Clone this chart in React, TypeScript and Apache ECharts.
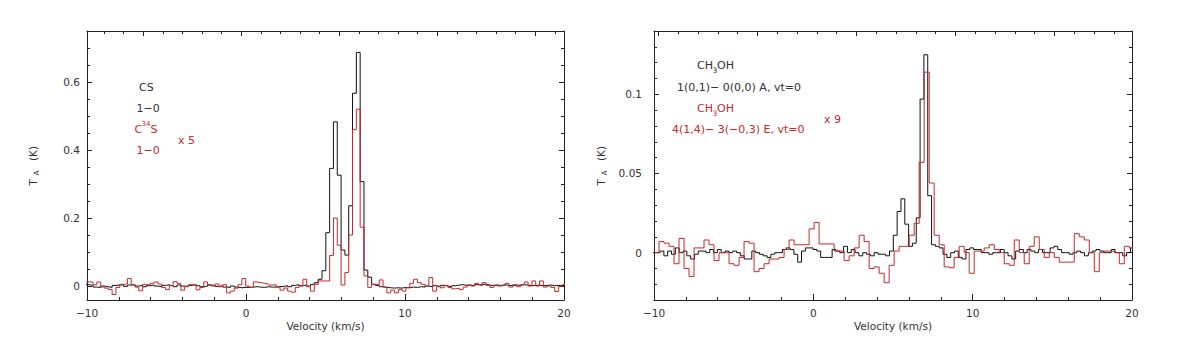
import React, { useEffect, useRef } from "react";
import * as echarts from "echarts";

// ---- channel grids (km/s) ----
const FINE_V0 = -10.1; // left edge of first channel
const FINE_DV = 0.24;
const COARSE_V0 = -10.0;
const COARSE_DV = 0.314;

// ---- left panel: CS 1-0 (black) ----
const csBlack = [
  0.004, 0.002, -0.003, -0.004, 0.0, -0.002, -0.004, 0.002, 0.003, 0.004,
  -0.001, 0.003, 0.004, 0.0, 0.002, -0.002, 0.001, 0.003, 0.0, -0.002,
  0.002, 0.004, 0.001, -0.002, 0.003, 0.0, -0.001, 0.002, 0.004, 0.001,
  -0.002, 0.0, 0.003, 0.002, -0.001, 0.001, -0.003, -0.004, 0.0, -0.003,
  -0.005, -0.004, -0.004, -0.003, -0.002, -0.003, -0.004, -0.002, -0.003, -0.003,
  -0.002, -0.001, 0.001, -0.002, 0.002, 0.004, 0.001, 0.003, 0.0, 0.005,
  0.01, 0.02, 0.045, 0.157, 0.346, 0.483, 0.326, 0.106, 0.091, 0.236,
  0.567, 0.687, 0.307, 0.047, 0.026, 0.005,
  0.002, -0.002, -0.004, -0.005, -0.006, -0.005, -0.006, -0.004, -0.005, -0.003,
  -0.004, -0.002, -0.003, 0.0, -0.002, 0.001, -0.001, 0.002, 0.0, -0.002,
  0.001, 0.003, 0.004, 0.002, 0.003, 0.001, 0.004, 0.002, 0.005, 0.003,
  0.001, 0.003, 0.002, 0.004, 0.002, 0.001, 0.003, 0.002, 0.004, 0.003,
  0.001, 0.002, 0.003, 0.001, 0.002, 0.003, 0.001, 0.002, 0.002, 0.001,
];

// ---- left panel: C34S 1-0 x5 (red) ----
const c34sRed = [
  0.012, 0.012, 0.004, 0.012, -0.003, -0.006, -0.01, -0.025, -0.004, 0.005,
  0.006, 0.022, 0.004, -0.003, -0.014, 0.005, 0.003, 0.008, 0.012, 0.006,
  -0.004, -0.01, 0.002, 0.013, 0.008, -0.012, -0.002, 0.004, 0.005, -0.011,
  -0.004, 0.012, 0.004, 0.0, 0.006, -0.002, 0.004, -0.02, -0.015, -0.006,
  0.004, 0.022, 0.0, -0.004, 0.012, 0.01, 0.008, 0.006, 0.003, 0.004,
  -0.003, -0.012, -0.006, -0.015, -0.018, -0.004, 0.0, 0.02, -0.002, -0.015,
  0.005, 0.015, 0.015, 0.015, 0.09, 0.2, 0.12, 0.003, 0.04, 0.15,
  0.46, 0.52, 0.173, 0.03, -0.004, 0.005, 0.005, 0.018, -0.003, -0.02,
  -0.012, -0.02, -0.01, -0.015, -0.005, 0.008, 0.02, 0.01, 0.005, 0.0,
  0.025, -0.015, -0.002, -0.005, 0.002, -0.004, -0.008, -0.006, -0.01, -0.003,
  0.003, 0.0, 0.008, 0.004, 0.01, 0.002, -0.004, 0.003, 0.0, 0.002,
  0.008, -0.003, 0.004, -0.002, 0.004, 0.012, 0.0, 0.015, 0.0, 0.015,
  -0.003, 0.0, -0.004, -0.016, 0.0, 0.004,
];

// ---- right panel: CH3OH 1(0,1)-0(0,0) A (black) ----
const ch3ohA = [
  0.0, 0.0, 0.001, -0.002, 0.001, -0.001, 0.003, 0.0, 0.001, -0.002,
  -0.004, -0.001, 0.001, 0.001, 0.0, 0.002, 0.0, 0.002, 0.0, 0.001,
  0.0, 0.001, 0.0, -0.002, -0.004, -0.004, 0.001, 0.0, -0.001, -0.002,
  -0.003, -0.001, 0.0, 0.0, 0.002, 0.003, 0.002, -0.001, -0.006, 0.001,
  0.003, 0.003, 0.002, 0.001, -0.003, -0.003, -0.003, 0.002, 0.001, 0.0,
  0.004, 0.0, 0.002, 0.0, -0.002, 0.0, -0.001, -0.002, 0.0, -0.001,
  -0.001, -0.002, 0.001, 0.011, 0.026, 0.034, 0.018, 0.004, 0.006, 0.022,
  0.097, 0.125, 0.036, 0.005, 0.004, 0.003, -0.001, -0.003, 0.0, 0.001,
  -0.003, -0.004, 0.002, 0.003, 0.002, 0.002, 0.0, 0.0, -0.001, 0.0,
  0.0, 0.002, 0.0, -0.002, -0.004, 0.001, 0.002, 0.0, 0.002, 0.001,
  0.0, 0.002, 0.0, 0.0, 0.003, 0.004, 0.002, 0.0, 0.0, -0.001,
  0.0, 0.001, 0.0, -0.002, 0.0, 0.001, 0.002, 0.001, 0.0, 0.0,
  0.002, 0.0, 0.0, -0.002, 0.0, 0.003,
];

// ---- right panel: CH3OH 4(1,4)-3(-0,3) E x9 (red) ----
const ch3ohE = [
  0.0, 0.007, 0.006, 0.004, -0.007, 0.009, -0.01, -0.015, 0.003, 0.003,
  0.008, 0.005, -0.005, 0.0, 0.0, -0.007, -0.008, -0.003, 0.007, 0.006,
  -0.012, -0.01, -0.007, -0.004, -0.004, -0.003, 0.002, 0.008, 0.005, 0.005,
  0.005, 0.015, 0.019, 0.0055, 0.0055, 0.0055, 0.001, 0.001, -0.005, -0.002,
  0.003, 0.011, 0.007, -0.01, -0.009, -0.013, -0.019, -0.008, 0.001, 0.004,
  0.004, 0.011, 0.0185, 0.057, 0.114, 0.044, 0.011, 0.005, -0.009, -0.0095,
  -0.003, 0.004, 0.0, -0.013, 0.001, 0.001, 0.003, 0.005, 0.002, 0.0,
  -0.007, -0.008, 0.008, 0.0, -0.007, 0.004, 0.01, 0.002, -0.003, 0.0,
  -0.003, -0.006, -0.006, -0.006, 0.012, 0.01, 0.008, 0.0, -0.012, 0.0,
  0.001, 0.001, 0.0, -0.007, 0.004, 0.003,
];

// ---- ticks ----
const velocityTicks = [-10, 0, 10, 20];
const velocityMinor = [-8, -6, -4, -2, 2, 4, 6, 8, 12, 14, 16, 18];
const leftYTicks = [0, 0.2, 0.4, 0.6];
const leftYMinor = [0.05, 0.1, 0.15, 0.25, 0.3, 0.35, 0.45, 0.5, 0.55, 0.65, 0.7];
const rightYTicks = [0, 0.05, 0.1];
const rightYMinor = [-0.02, -0.01, 0.01, 0.02, 0.03, 0.04, 0.06, 0.07, 0.08, 0.09, 0.11, 0.12, 0.13];
const topMajor = [0, 5, 10, 15, 20];
const topMinorLeft = [-2, -1, 1, 2, 3, 4, 6, 7, 8, 9, 11, 12, 13, 14, 16, 17, 18, 19, 21];
const topMinorRight = [1, 2, 3, 4, 6, 7, 8, 9, 11, 12, 13, 14, 16, 17, 18, 19, 21, 22, 23];

const FONT = "DejaVu Sans";
const AXIS = "#222";
const TXT = "#333";
const RED = "#c42a2a";
const BLACK = "#111";

const toSteps = (vals: number[], v0: number, dv: number) => {
  const pts = vals.map((t, i) => [v0 + i * dv, t]);
  pts.push([v0 + vals.length * dv, vals[vals.length - 1]]);
  return pts;
};

const fmtV = (v: number) => (v < 0 ? "\u2212" + Math.abs(v) : String(v));
const fmtY = (v: number) => (Math.abs(v) < 1e-9 ? "0" : String(+v.toFixed(2)));

function xAxesFor(gridIndex: number, topMin: number, topMax: number, topMinor: number[]) {
  const base: any = {
    type: "value",
    gridIndex,
    min: -10,
    max: 20,
    splitLine: { show: false },
    axisLine: { show: false, onZero: false },
    axisLabel: { show: false },
    axisTick: { show: false },
  };
  const line = { show: true, onZero: false, lineStyle: { color: AXIS, width: 1 } };
  return [
    {
      ...base,
      position: "bottom",
      axisLine: line,
      axisTick: { show: true, inside: true, length: 6, customValues: velocityTicks, lineStyle: { color: AXIS } },
      axisLabel: {
        show: true,
        customValues: velocityTicks,
        formatter: fmtV,
        margin: 7,
        color: TXT,
        fontFamily: FONT,
        fontSize: 10.5,
      },
    },
    {
      ...base,
      position: "bottom",
      axisTick: { show: true, inside: true, length: 3, customValues: velocityMinor, lineStyle: { color: AXIS } },
    },
    {
      ...base,
      position: "top",
      min: topMin,
      max: topMax,
      axisLine: line,
      axisTick: { show: true, inside: true, length: 5, customValues: topMajor, lineStyle: { color: AXIS } },
    },
    {
      ...base,
      position: "top",
      min: topMin,
      max: topMax,
      axisTick: { show: true, inside: true, length: 3, customValues: topMinor, lineStyle: { color: AXIS } },
    },
  ];
}

function yAxesFor(gridIndex: number, min: number, max: number, major: number[], minor: number[], margin: number) {
  const base: any = {
    type: "value",
    gridIndex,
    min,
    max,
    splitLine: { show: false },
    axisLine: { show: false, onZero: false },
    axisLabel: { show: false },
    axisTick: { show: false },
  };
  const line = { show: true, onZero: false, lineStyle: { color: AXIS, width: 1 } };
  return [
    {
      ...base,
      position: "left",
      axisLine: line,
      axisTick: { show: true, inside: true, length: 5, customValues: major, lineStyle: { color: AXIS } },
      axisLabel: {
        show: true,
        customValues: major,
        formatter: fmtY,
        margin,
        color: TXT,
        fontFamily: FONT,
        fontSize: 10.5,
      },
    },
    {
      ...base,
      position: "left",
      axisTick: { show: true, inside: true, length: 3, customValues: minor, lineStyle: { color: AXIS } },
    },
    {
      ...base,
      position: "right",
      axisLine: line,
      axisTick: { show: true, inside: true, length: 5, customValues: major, lineStyle: { color: AXIS } },
    },
    {
      ...base,
      position: "right",
      axisTick: { show: true, inside: true, length: 3, customValues: minor, lineStyle: { color: AXIS } },
    },
  ];
}

const txt = (text: string, x: number, y: number, fill: string, size = 11, extra: any = {}) => ({
  type: "text",
  x,
  y,
  silent: true,
  z: 10,
  ...extra,
  style: {
    text,
    fill,
    fontSize: size,
    fontFamily: FONT,
    align: extra.align || "left",
    verticalAlign: "middle",
  },
});

const vtxt = (text: string, x: number, y: number, size = 10.5) => ({
  type: "text",
  x,
  y,
  rotation: Math.PI / 2,
  silent: true,
  z: 10,
  style: { text, fill: TXT, fontSize: size, fontFamily: FONT, align: "center", verticalAlign: "middle" },
});

export default function App() {
  const ref = useRef<HTMLDivElement>(null);

  useEffect(() => {
    if (!ref.current) return;
    const chart = echarts.init(ref.current, null, { renderer: "svg" });

    const lineSeries = (name: string, data: number[][], color: string, xi: number, yi: number) => ({
      name,
      type: "line",
      step: "end",
      data,
      xAxisIndex: xi,
      yAxisIndex: yi,
      showSymbol: false,
      symbol: "none",
      clip: true,
      silent: true,
      lineStyle: { color, width: 1 },
    });

    chart.setOption({
      animation: false,
      backgroundColor: "#fff",
      grid: [
        { left: 87, top: 31, width: 477, height: 269 },
        { left: 654, top: 31, width: 478, height: 269 },
      ],
      xAxis: [
        ...xAxesFor(0, -2.87, 21.47, topMinorLeft),
        ...xAxesFor(1, -0.22, 23.92, topMinorRight),
      ],
      yAxis: [
        ...yAxesFor(0, -0.041, 0.75, leftYTicks, leftYMinor, 7),
        ...yAxesFor(1, -0.0299, 0.14, rightYTicks, rightYMinor, 12),
      ],
      series: [
        lineSeries("CS 1-0", toSteps(csBlack, FINE_V0, FINE_DV), BLACK, 0, 0),
        lineSeries("C34S 1-0 x5", toSteps(c34sRed, FINE_V0, FINE_DV), RED, 0, 0),
        lineSeries("CH3OH A", toSteps(ch3ohA, FINE_V0, FINE_DV), BLACK, 4, 4),
        lineSeries("CH3OH E x9", toSteps(ch3ohE, COARSE_V0, COARSE_DV), RED, 4, 4),
      ],
      graphic: [
        // left panel annotations
        txt("CS", 139, 87, TXT),
        txt("1\u22120", 136.5, 108, TXT),
        txt("C", 134.5, 129, RED),
        txt("34", 141.5, 124, RED, 7),
        txt("S", 150.5, 129, RED),
        txt("1\u22120", 136.5, 150, RED),
        txt("x 5", 178, 140, RED),
        // right panel annotations
        txt("CH", 697, 65.5, TXT),
        txt("3", 712.5, 70, TXT, 7.5),
        txt("OH", 717, 65.5, TXT),
        txt("1(0,1)\u2212 0(0,0) A, vt=0", 677, 87, TXT),
        txt("CH", 697, 108.5, RED),
        txt("3", 712.5, 113, RED, 7.5),
        txt("OH", 717, 108.5, RED),
        txt("4(1,4)\u2212 3(\u22120,3) E, vt=0", 672, 129.5, RED),
        txt("x 9", 824, 119.5, RED),
        // axis titles
        txt("Velocity (km/s)", 325.5, 326, TXT, 10.5, { align: "center" }),
        txt("Velocity (km/s)", 893, 326, TXT, 10.5, { align: "center" }),
        vtxt("T", 32.5, 182.5),
        vtxt("A", 36, 173, 7.5),
        vtxt("(K)", 32.5, 153.5),
        vtxt("T", 601, 182.5),
        vtxt("A", 604.5, 173, 7.5),
        vtxt("(K)", 601, 153.5),
      ],
    });

    return () => chart.dispose();
  }, []);

  return (
    <div
      ref={ref}
      style={{ position: "absolute", left: 0, top: 0, width: 1186, height: 360, background: "#fff" }}
    />
  );
}
